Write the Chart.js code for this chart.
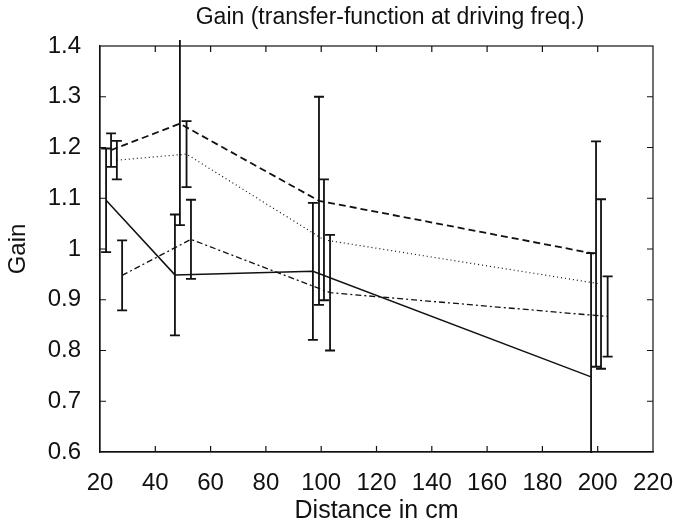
<!DOCTYPE html>
<html>
<head>
<meta charset="utf-8">
<script src="https://cdn.jsdelivr.net/npm/chart.js@4"></script>
<style>
  html, body { margin: 0; padding: 0; background: #fff; }
  canvas { display: block; }
</style>
</head>
<body>
<canvas id="chart" width="673" height="525"></canvas>
<script>
const chartTitle = "Gain (transfer-function at driving freq.)";
const xTickValues = [20, 40, 60, 80, 100, 120, 140, 160, 180, 200, 220];
const yTickValues = [0.6, 0.7, 0.8, 0.9, 1.0, 1.1, 1.2, 1.3, 1.4];
const yTickLabels = ["0.6", "0.7", "0.8", "0.9", "1", "1.1", "1.2", "1.3", "1.4"];

// four runs, each with its own small x offset around 25, 50, 100 and 200 cm
const solidX = [22.2, 47.1, 97.0, 197.6];
const solidY = [1.096, 0.949, 0.956, 0.748];
const solidErr = [0.102, 0.119, 0.135, 0.244];

const dashedX = [24.0, 48.9, 99.2, 199.4];
const dashedY = [1.195, 1.247, 1.095, 0.99];
const dashedErr = [0.033, 0.2, 0.205, 0.222];

const dottedX = [26.1, 51.3, 101.0, 201.2];
const dottedY = [1.175, 1.187, 1.018, 0.931];
const dottedErr = [0.038, 0.065, 0.119, 0.167];

const dashDotX = [28.0, 52.9, 103.2, 203.6];
const dashDotY = [0.948, 1.019, 0.914, 0.867];
const dashDotErr = [0.069, 0.078, 0.114, 0.079];

const ink = "#111";
const fontFamily = "'Liberation Sans', Arial, Helvetica, sans-serif";

function points(xs, ys) {
  return xs.map((x, i) => ({ x, y: ys[i] }));
}

function series(xs, ys, errs, dash, width) {
  return {
    data: points(xs, ys),
    errors: errs,
    showLine: true,
    borderColor: ink,
    borderWidth: width,
    borderDash: dash,
    pointRadius: 0,
    tension: 0,
  };
}

const errorBars = {
  id: "errorBars",
  afterDatasetsDraw(chart) {
    const { ctx, chartArea, scales } = chart;
    ctx.save();
    ctx.beginPath();
    ctx.rect(chartArea.left - 1, chartArea.top - 6, chartArea.width + 2, chartArea.height + 7);
    ctx.clip();
    ctx.strokeStyle = ink;
    ctx.lineWidth = 1.8;
    ctx.setLineDash([]);
    chart.data.datasets.forEach((ds) => {
      ds.errors.forEach((err, i) => {
        const p = ds.data[i];
        const px = scales.x.getPixelForValue(p.x);
        const top = scales.y.getPixelForValue(p.y + err);
        const bottom = scales.y.getPixelForValue(p.y - err);
        ctx.beginPath();
        ctx.moveTo(px, top);
        ctx.lineTo(px, bottom);
        ctx.moveTo(px - 5, top);
        ctx.lineTo(px + 5, top);
        ctx.moveTo(px - 5, bottom);
        ctx.lineTo(px + 5, bottom);
        ctx.stroke();
      });
    });
    ctx.restore();
  },
};

const frame = {
  id: "frame",
  afterDraw(chart) {
    const { ctx, chartArea: a, scales } = chart;
    ctx.save();
    ctx.strokeStyle = ink;
    ctx.lineWidth = 1.2;
    ctx.strokeRect(a.left, a.top, a.width, a.height);
    ctx.beginPath();
    scales.x.ticks.forEach((t, i) => {
      if (i === 0 || i === scales.x.ticks.length - 1) return;
      const px = scales.x.getPixelForValue(t.value);
      ctx.moveTo(px, a.bottom);
      ctx.lineTo(px, a.bottom - 6);
      ctx.moveTo(px, a.top);
      ctx.lineTo(px, a.top + 6);
    });
    scales.y.ticks.forEach((t, i) => {
      if (i === 0 || i === scales.y.ticks.length - 1) return;
      const py = scales.y.getPixelForValue(t.value);
      ctx.moveTo(a.left, py);
      ctx.lineTo(a.left + 6, py);
      ctx.moveTo(a.right, py);
      ctx.lineTo(a.right - 6, py);
    });
    ctx.stroke();

    // title sits a little right of the plot centre, as in the original
    ctx.fillStyle = ink;
    ctx.font = `23px ${fontFamily}`;
    ctx.textAlign = "center";
    ctx.textBaseline = "middle";
    ctx.fillText(chartTitle, 390, 18);
    ctx.restore();
  },
};

new Chart(document.getElementById("chart"), {
  type: "scatter",
  data: {
    datasets: [
      series(solidX, solidY, solidErr, [], 1.5),
      series(dashedX, dashedY, dashedErr, [7, 4], 1.8),
      series(dottedX, dottedY, dottedErr, [1, 3], 1.2),
      series(dashDotX, dashDotY, dashDotErr, [6, 3, 2, 3], 1.3),
    ],
  },
  options: {
    responsive: false,
    devicePixelRatio: 1,
    animation: false,
    layout: { padding: { top: 46, right: 20, bottom: 0, left: 0 } },
    plugins: {
      legend: { display: false },
      tooltip: { enabled: false },
      title: { display: false },
    },
    scales: {
      x: {
        type: "linear",
        min: 20,
        max: 220,
        afterBuildTicks: (scale) => {
          scale.ticks = xTickValues.map((value) => ({ value }));
        },
        afterFit: (scale) => {
          scale.height = 73;
          scale.paddingLeft = 0;
          scale.paddingRight = 0;
        },
        grid: { drawOnChartArea: false, drawTicks: false },
        border: { display: true, color: ink, width: 1.2 },
        ticks: {
          color: ink,
          padding: 17,
          autoSkip: false,
          maxRotation: 0,
          font: { family: fontFamily, size: 24 },
          callback: (value) => String(value),
        },
        title: {
          display: true,
          text: "Distance in cm",
          color: ink,
          font: { family: fontFamily, size: 25, lineHeight: 1.0 },
          padding: { top: 0, bottom: 1 },
        },
      },
      y: {
        type: "linear",
        min: 0.6,
        max: 1.4,
        afterBuildTicks: (scale) => {
          scale.ticks = yTickValues.map((value) => ({ value }));
        },
        afterFit: (scale) => {
          scale.width = 100;
          scale.paddingTop = 0;
          scale.paddingBottom = 0;
        },
        grid: { drawOnChartArea: false, drawTicks: false },
        border: { display: true, color: ink, width: 1.2 },
        ticks: {
          color: ink,
          padding: 19,
          autoSkip: false,
          font: { family: fontFamily, size: 24 },
          callback: (value, index) => yTickLabels[index],
        },
        title: {
          display: true,
          text: "Gain",
          color: ink,
          font: { family: fontFamily, size: 24 },
          padding: { top: 4, bottom: 0 },
        },
      },
    },
  },
  plugins: [errorBars, frame],
});
</script>
</body>
</html>
